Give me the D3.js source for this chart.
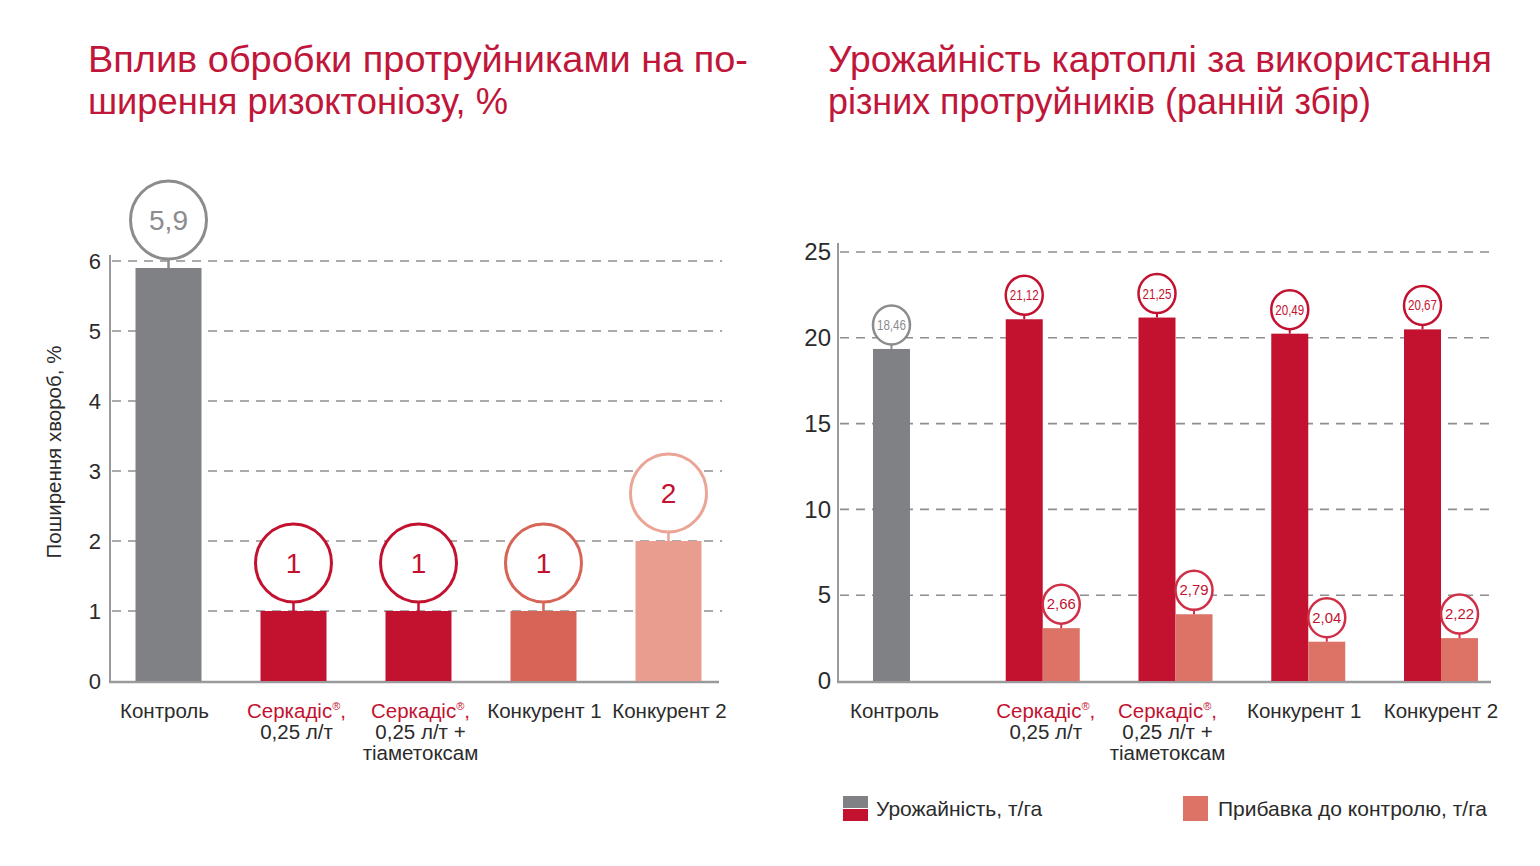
<!DOCTYPE html>
<html><head><meta charset="utf-8">
<script src="https://cdn.jsdelivr.net/npm/d3@7/dist/d3.min.js"></script>
<style>
body{margin:0;background:#fff;}
svg{display:block;font-family:"Liberation Sans",Arial,sans-serif;}
</style></head>
<body>
<svg id="c" width="1540" height="866"></svg>
<script>
// ---------- data ----------
const leftCategories = ["Контроль","Серкадіс®, 0,25 л/т","Серкадіс®, 0,25 л/т + тіаметоксам","Конкурент 1","Конкурент 2"];
const leftValues = [5.9, 1, 1, 1, 2];
const leftLabels = ["5,9","1","1","1","2"];
const leftTicks = [0,1,2,3,4,5,6];

const rightCategories = ["Контроль","Серкадіс®, 0,25 л/т","Серкадіс®, 0,25 л/т + тіаметоксам","Конкурент 1","Конкурент 2"];
// heights as drawn in the picture
const yieldValues = [19.35, 21.08, 21.18, 20.24, 20.49];
const yieldLabels = ["18,46","21,12","21,25","20,49","20,67"];
const gainValues = [null, 3.08, 3.89, 2.29, 2.5];
const gainLabels = [null, "2,66","2,79","2,04","2,22"];
const rightTicks = [0,5,10,15,20,25];

const xLabelLines = [
  [{t:"Контроль",red:false}],
  [{t:"Серкадіс®,",red:true},{t:"0,25 л/т",red:false}],
  [{t:"Серкадіс®,",red:true},{t:"0,25 л/т +",red:false},{t:"тіаметоксам",red:false}],
  [{t:"Конкурент 1",red:false}],
  [{t:"Конкурент 2",red:false}]
];

const RED = "#c3122f", GRAY = "#808185", TXT = "#2b2b2b", AX = "#9a9a9c";
const leftBarColors = [GRAY, RED, RED, "#d66457", "#e89d8f"];
const leftRingColors = ["#8c8c8f", "#c3122f", "#c3122f", "#d66457", "#eaa596"];
const leftTextColors = ["#8c8c8f", RED, RED, RED, RED];
const PINK = "#dc7366";

const svg = d3.select("#c");

// ---------- titles ----------
function title(x, y, text, w){
  const t = svg.append("text").attr("x",x).attr("y",y).attr("fill","#c0163a")
    .attr("font-size",36).text(text);
  if(w) t.attr("textLength",w).attr("lengthAdjust","spacingAndGlyphs");
}
title(88,72,"Вплив обробки протруйниками на по-",660);
title(88,114,"ширення ризоктоніозу, %",420);
title(828,72,"Урожайність картоплі за використання",664);
title(828,114,"різних протруйників (ранній збір)",543);

function xLabels(g, xc, y0){
  xLabelLines.forEach((lines,i)=>{
    lines.forEach((ln,j)=>{
      const t = g.append("text").attr("x",xc(i)).attr("y",y0+j*21).attr("text-anchor","middle")
        .attr("font-size",20.5).attr("fill",ln.red?RED:TXT);
      if(ln.t.includes("®")){
        const parts = ln.t.split("®");
        t.append("tspan").text(parts[0]);
        t.append("tspan").attr("font-size",11).attr("dy",-8).text("®");
        t.append("tspan").attr("dy",8).text(parts[1]);
      } else t.text(ln.t);
    });
  });
}

// ---------- left chart ----------
const lx = d3.scaleBand().domain(leftCategories).range([106,731]).paddingInner(0.472).paddingOuter(0.236);
const ly = d3.scaleLinear().domain([0,6]).range([681,261]);
const L = svg.append("g");

L.selectAll("line.grid").data(leftTicks.filter(d=>d>0)).join("line")
  .attr("x1",112).attr("x2",722).attr("y1",d=>ly(d)).attr("y2",d=>ly(d))
  .attr("stroke","#8e8e90").attr("stroke-width",1.6).attr("stroke-dasharray","9,7");

const lAxis = L.append("g").attr("transform","translate(110,0)")
  .call(d3.axisLeft(ly).tickValues(leftTicks).tickSize(0).tickPadding(9).tickFormat(d3.format("d")));
lAxis.select(".domain").remove();
lAxis.selectAll("text").attr("font-size",22).attr("fill",TXT).attr("font-family","Liberation Sans, Arial");
L.append("line").attr("x1",110).attr("x2",110).attr("y1",255).attr("y2",682).attr("stroke",AX).attr("stroke-width",2);
L.append("line").attr("x1",109).attr("x2",719).attr("y1",682).attr("y2",682).attr("stroke",AX).attr("stroke-width",2.5);

L.append("text").attr("transform","translate(61,452) rotate(-90)").attr("text-anchor","middle")
  .attr("font-size",20.5).attr("fill",TXT).text("Поширення хвороб, %");

L.selectAll("rect.bar").data(leftValues).join("rect")
  .attr("x",(d,i)=>lx(leftCategories[i])).attr("width",lx.bandwidth())
  .attr("y",d=>ly(d)).attr("height",d=>ly(0)-ly(d)).attr("fill",(d,i)=>leftBarColors[i]);

const LR = 38;
const lb = L.selectAll("g.bub").data(leftValues).join("g")
  .attr("transform",(d,i)=>`translate(${lx(leftCategories[i])+lx.bandwidth()/2},${ly(d)-LR-10})`);
lb.append("line").attr("y1",LR).attr("y2",LR+10).attr("stroke",(d,i)=>leftRingColors[i]).attr("stroke-width",2.5);
lb.append("ellipse").attr("rx",LR).attr("ry",LR+1).attr("fill","#fff").attr("stroke",(d,i)=>leftRingColors[i]).attr("stroke-width",3);
lb.append("text").attr("text-anchor","middle").attr("dy",10).attr("font-size",28)
  .attr("fill",(d,i)=>leftTextColors[i]).text((d,i)=>leftLabels[i]);

const leftLabelShift = [-4, 3, 2, 1, 1];
xLabels(L, i=>lx(leftCategories[i])+lx.bandwidth()/2 + leftLabelShift[i], 718);

// ---------- right chart ----------
const rx = d3.scaleBand().domain(rightCategories).range([843.6,1507.4]);
const rSub = d3.scaleBand().domain(["yield","gain"]).range([-37,37]);
const ry = d3.scaleLinear().domain([0,25]).range([681,252]);
const R = svg.append("g");

R.selectAll("line.grid").data(rightTicks.filter(d=>d>0)).join("line")
  .attr("x1",840).attr("x2",1492).attr("y1",d=>ry(d)).attr("y2",d=>ry(d))
  .attr("stroke","#8e8e90").attr("stroke-width",1.6).attr("stroke-dasharray","9,7");

const rAxis = R.append("g").attr("transform","translate(838,0)")
  .call(d3.axisLeft(ry).tickValues(rightTicks).tickSize(0).tickPadding(7).tickFormat(d3.format("d")));
rAxis.select(".domain").remove();
rAxis.selectAll("text").attr("font-size",24).attr("fill",TXT).attr("font-family","Liberation Sans, Arial");
R.append("line").attr("x1",838).attr("x2",838).attr("y1",243).attr("y2",682).attr("stroke",AX).attr("stroke-width",2);
R.append("line").attr("x1",837).attr("x2",1491).attr("y1",682).attr("y2",682).attr("stroke",AX).attr("stroke-width",2.5);

const gc = i => rx(rightCategories[i]) + rx.bandwidth()/2;

R.selectAll("rect.y").data(yieldValues).join("rect")
  .attr("x",(d,i)=>gc(i)+rSub("yield")).attr("width",rSub.bandwidth())
  .attr("y",d=>ry(d)).attr("height",d=>ry(0)-ry(d)).attr("fill",(d,i)=>i===0?GRAY:RED);
const gainData = gainValues.map((v,i)=>({v,i})).filter(d=>d.v!=null);
R.selectAll("rect.g").data(gainData).join("rect")
  .attr("x",d=>gc(d.i)+rSub("gain")).attr("width",rSub.bandwidth())
  .attr("y",d=>ry(d.v)).attr("height",d=>ry(0)-ry(d.v)).attr("fill",PINK);

const SR = 18.5;
function smallBubble(cx, top, label, ring, txt){
  const g = R.append("g").attr("transform",`translate(${cx},${top-24})`);
  g.append("line").attr("y1",SR).attr("y2",24).attr("stroke",ring).attr("stroke-width",2);
  g.append("ellipse").attr("rx",SR).attr("ry",SR+1).attr("fill","#fff").attr("stroke",ring).attr("stroke-width",2.5);
  g.append("text").attr("text-anchor","middle").attr("dy",5).attr("font-size",14)
    .attr("fill",txt).attr("textLength",29).attr("lengthAdjust","spacingAndGlyphs").text(label);
}
yieldValues.forEach((v,i)=>{
  const ring = i===0 ? "#8c8c8f" : "#c3122f";
  smallBubble(gc(i)+rSub("yield")+rSub.bandwidth()/2, ry(v), yieldLabels[i], ring, i===0?"#8c8c8f":RED);
});
gainData.forEach(d=>{
  smallBubble(gc(d.i)+rSub("gain")+rSub.bandwidth()/2, ry(d.v), gainLabels[d.i], "#cf3048", RED);
});

const rightLabelShift = [3, 3, -8, -4, 0];
xLabels(R, i=> (i===0 ? gc(0)+rSub("yield")+rSub.bandwidth()/2 : gc(i)) + rightLabelShift[i], 718);

// ---------- legend ----------
const lg = svg.append("g");
lg.append("rect").attr("x",843).attr("y",796).attr("width",25).attr("height",12).attr("fill",GRAY);
lg.append("rect").attr("x",843).attr("y",809).attr("width",25).attr("height",12).attr("fill",RED);
lg.append("text").attr("x",876).attr("y",816).attr("font-size",21).attr("fill",TXT).text("Урожайність, т/га");
lg.append("rect").attr("x",1183).attr("y",796).attr("width",25).attr("height",25).attr("fill",PINK);
lg.append("text").attr("x",1218).attr("y",816).attr("font-size",21).attr("fill",TXT).text("Прибавка до контролю, т/га");
</script>
</body></html>
